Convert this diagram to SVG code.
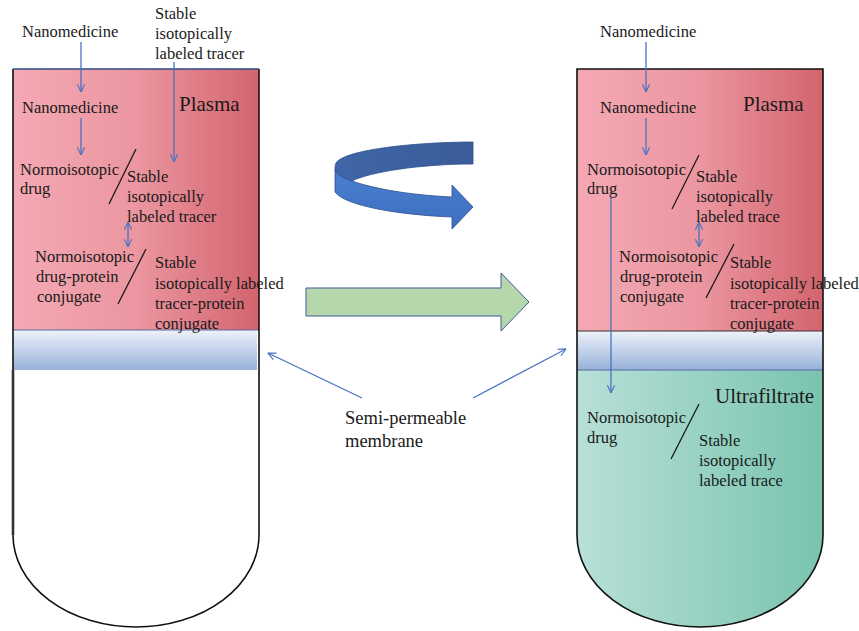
<svg xmlns="http://www.w3.org/2000/svg" width="859" height="631" viewBox="0 0 859 631">
<style>
text{font-family:"Liberation Serif","Times New Roman",serif;fill:#1a1a1a;font-size:16.5px}
.big{font-size:21px}
.mem{font-size:18.5px}
.conn{stroke:#4a72c0;stroke-width:1.3;fill:none}
.slash{stroke:#1a1a1a;stroke-width:1.3}
.outline{fill:none;stroke:#111;stroke-width:1.6}
</style>
<defs>
<linearGradient id="plasma" x1="0" y1="0" x2="1" y2="0">
<stop offset="0" stop-color="#f5a9b4"/>
<stop offset="0.5" stop-color="#eb96a0"/>
<stop offset="1" stop-color="#d3646e"/>
</linearGradient>
<linearGradient id="memb" x1="0" y1="0" x2="0" y2="1">
<stop offset="0" stop-color="#eef2fa"/>
<stop offset="1" stop-color="#97b1da"/>
</linearGradient>
<linearGradient id="ultra" x1="0" y1="0" x2="1" y2="0">
<stop offset="0" stop-color="#b8e0d8"/>
<stop offset="1" stop-color="#79c4ae"/>
</linearGradient>
<linearGradient id="front" x1="0" y1="0" x2="0" y2="1">
<stop offset="0" stop-color="#4a7fd0"/>
<stop offset="1" stop-color="#3e6ebf"/>
</linearGradient>
<linearGradient id="back" x1="0" y1="0" x2="1" y2="0">
<stop offset="0" stop-color="#3f66a8"/>
<stop offset="1" stop-color="#3a5c98"/>
</linearGradient>
<marker id="ah" viewBox="0 0 10 10" refX="9.5" refY="5" markerWidth="9" markerHeight="9" markerUnits="userSpaceOnUse" orient="auto-start-reverse">
<path d="M1,1 L9.5,5 L1,9" fill="none" stroke="#4a72c0" stroke-width="1.3"/>
</marker>
<clipPath id="tubeR">
<path d="M577,69 L823,69 L823,535 A123 92 0 0 1 577,535 Z"/>
</clipPath>
</defs>

<g id="tube-left">
<path d="M13,69 L259,69 L259,535 A123 92 0 0 1 13,535 Z" fill="#fff"/>
<rect x="13" y="69" width="246" height="261" fill="url(#plasma)"/>
<rect x="13" y="330" width="244" height="40" fill="url(#memb)"/>
<line x1="13" y1="330" x2="259" y2="330" stroke="#5b6aa0" stroke-width="1"/>
<path class="outline" d="M259,69 L259,535 A123 92 0 0 1 13,535 L13,69"/>
<line x1="13" y1="370" x2="13" y2="535" stroke="#333" stroke-width="2.6"/>
<line x1="13" y1="69" x2="259" y2="69" stroke="#2f4a8a" stroke-width="1.4"/>
<text class="big" x="179" y="111">Plasma</text>
</g>

<g id="tube-right">
<g clip-path="url(#tubeR)">
<rect x="577" y="69" width="246" height="262" fill="url(#plasma)"/>
<rect x="577" y="331" width="246" height="39" fill="url(#memb)"/>
<rect x="577" y="370" width="246" height="260" fill="url(#ultra)"/>
</g>
<line x1="577" y1="331" x2="823" y2="331" stroke="#333" stroke-width="1"/>
<line x1="577" y1="370" x2="823" y2="370" stroke="#5b6aa0" stroke-width="1"/>
<path class="outline" d="M577,69 L823,69 L823,535 A123 92 0 0 1 577,535 Z"/>
<text class="big" x="743" y="111">Plasma</text>
<text class="big" x="715" y="403">Ultrafiltrate</text>
</g>

<g id="left-labels">
<text x="22" y="37">Nanomedicine</text>
<text x="155" y="19">Stable</text>
<text x="155" y="39">isotopically</text>
<text x="155" y="59">labeled tracer</text>
<text x="22" y="113">Nanomedicine</text>
<text x="20" y="175">Normoisotopic</text>
<text x="20" y="194">drug</text>
<text x="127" y="182">Stable</text>
<text x="127" y="202">isotopically</text>
<text x="127" y="222">labeled tracer</text>
<text x="35" y="262">Normoisotopic</text>
<text x="36" y="282">drug-protein</text>
<text x="37" y="302">conjugate</text>
<text x="155" y="268">Stable</text>
<text x="155" y="289">isotopically labeled</text>
<text x="155" y="309">tracer-protein</text>
<text x="155" y="329">conjugate</text>
<line class="slash" x1="136" y1="149" x2="109" y2="204"/>
<line class="slash" x1="146" y1="249" x2="118" y2="304"/>
</g>

<g id="right-labels">
<text x="600" y="37">Nanomedicine</text>
<text x="600" y="113">Nanomedicine</text>
<text x="587" y="175">Normoisotopic</text>
<text x="587" y="194">drug</text>
<text x="696" y="182">Stable</text>
<text x="696" y="202">isotopically</text>
<text x="696" y="222">labeled trace</text>
<text x="619" y="262">Normoisotopic</text>
<text x="620" y="282">drug-protein</text>
<text x="620" y="302">conjugate</text>
<text x="730" y="268">Stable</text>
<text x="730" y="289">isotopically labeled</text>
<text x="730" y="309">tracer-protein</text>
<text x="730" y="329">conjugate</text>
<text x="587" y="423">Normoisotopic</text>
<text x="587" y="443">drug</text>
<text x="699" y="446">Stable</text>
<text x="699" y="466">isotopically</text>
<text x="699" y="486">labeled trace</text>
<line class="slash" x1="699" y1="155" x2="672" y2="209"/>
<line class="slash" x1="734" y1="244" x2="706" y2="298"/>
<line class="slash" x1="699" y1="404" x2="671" y2="459"/>
</g>

<g id="membrane-label">
<text class="mem" x="345" y="424">Semi-permeable</text>
<text class="mem" x="345" y="447">membrane</text>
</g>

<g id="rotate-arrow">
<path d="M473,142 C420,142 345,149 336,163 C335,165 335,168 335,170 C338,176 345,179 352,181 C370,172 420,164 473,164 Z" fill="url(#back)" stroke="#2f4f8f" stroke-width="0.8"/>
<path d="M335,170 C338,176 345,179 352,181 C375,189 410,195 452,197 L452,185 L473,207 L452,229 L452,217 C400,215 345,206 335,192 Z" fill="url(#front)" stroke="#2f4f8f" stroke-width="0.8"/>
</g>

<g id="forward-arrow">
<path d="M306,288 L501,288 L501,273 L529,302 L501,331 L501,316 L306,316 Z" fill="#b6d6ab" stroke="#3f5a96" stroke-width="1"/>
</g>

<g id="connectors">
<line class="conn" x1="81" y1="42" x2="81" y2="92" marker-end="url(#ah)"/>
<line class="conn" x1="81" y1="118" x2="81" y2="155" marker-end="url(#ah)"/>
<line class="conn" x1="174" y1="62" x2="174" y2="162" marker-end="url(#ah)"/>
<line class="conn" x1="128" y1="222" x2="128" y2="247" marker-start="url(#ah)" marker-end="url(#ah)"/>
<line class="conn" x1="646" y1="42" x2="646" y2="92" marker-end="url(#ah)"/>
<line class="conn" x1="646" y1="118" x2="646" y2="155" marker-end="url(#ah)"/>
<line class="conn" x1="699" y1="222" x2="699" y2="247" marker-start="url(#ah)" marker-end="url(#ah)"/>
<line class="conn" x1="611" y1="197" x2="611" y2="393" marker-end="url(#ah)"/>
<line class="conn" x1="362" y1="398" x2="268" y2="353" marker-end="url(#ah)"/>
<line class="conn" x1="473" y1="398" x2="566" y2="349" marker-end="url(#ah)"/>
</g>
</svg>
